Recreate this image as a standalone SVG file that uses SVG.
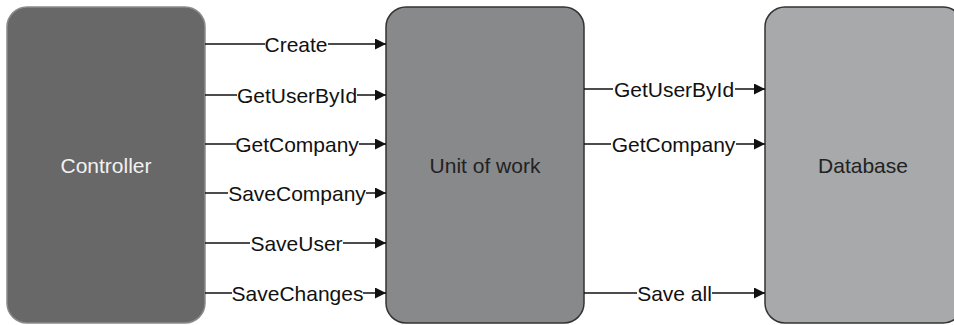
<svg xmlns="http://www.w3.org/2000/svg" width="954" height="325" viewBox="0 0 954 325">
<defs>
<style>
.box{stroke-width:1.5}
.lbl{font-family:"Liberation Sans",Arial,sans-serif;font-size:21px;text-anchor:middle}
.ctext{font-family:"Liberation Sans",Arial,sans-serif;font-size:21px;text-anchor:middle;fill:#111}
.line{stroke:#111;stroke-width:1.3;fill:none;marker-end:url(#arr)}
.bg{fill:#fff}
</style>
<marker id="arr" viewBox="0 0 11 11" refX="11" refY="5.5" markerWidth="11" markerHeight="11" markerUnits="userSpaceOnUse" orient="auto">
<path d="M0,0 L11,5.5 L0,11 Z" fill="#111"/>
</marker>
</defs>
<rect width="954" height="325" fill="#fff"/>
<g id="controller">
<rect class="box" x="7" y="7" width="198" height="316" rx="20" fill="#686868" stroke="#8a8a8a"/>
<text class="lbl" x="106" y="172.5" fill="#f2f2f2">Controller</text>
</g>
<g id="unitofwork">
<rect class="box" x="386" y="7" width="198" height="316" rx="20" fill="#88898b" stroke="#333"/>
<text class="lbl" x="485" y="172.5" fill="#222">Unit of work</text>
</g>
<g id="database">
<rect class="box" x="765" y="7" width="198" height="316" rx="20" fill="#a7a9aa" stroke="#333"/>
<text class="lbl" x="863" y="172.5" fill="#222">Database</text>
</g>
<g id="connectors">
<line class="line" x1="205" y1="44" x2="386" y2="44"/>
<rect class="bg" x="265" y="34" width="63" height="20"/>
<text class="ctext" x="296" y="51.5">Create</text>
<line class="line" x1="205" y1="95" x2="386" y2="95"/>
<rect class="bg" x="237" y="85" width="120" height="20"/>
<text class="ctext" x="297" y="102.5">GetUserById</text>
<line class="line" x1="205" y1="144" x2="386" y2="144"/>
<rect class="bg" x="236" y="134" width="123" height="20"/>
<text class="ctext" x="297" y="151.5">GetCompany</text>
<line class="line" x1="205" y1="193" x2="386" y2="193"/>
<rect class="bg" x="228" y="183" width="138" height="20"/>
<text class="ctext" x="297" y="200.5">SaveCompany</text>
<line class="line" x1="205" y1="243" x2="386" y2="243"/>
<rect class="bg" x="250" y="233" width="93" height="20"/>
<text class="ctext" x="296.5" y="250.5">SaveUser</text>
<line class="line" x1="205" y1="293" x2="386" y2="293"/>
<rect class="bg" x="232" y="283" width="131" height="20"/>
<text class="ctext" x="297.5" y="300.5">SaveChanges</text>
<line class="line" x1="584" y1="89" x2="765" y2="89"/>
<rect class="bg" x="613" y="79" width="122" height="20"/>
<text class="ctext" x="674" y="96.5">GetUserById</text>
<line class="line" x1="584" y1="144" x2="765" y2="144"/>
<rect class="bg" x="611" y="134" width="125" height="20"/>
<text class="ctext" x="673.5" y="151.5">GetCompany</text>
<line class="line" x1="584" y1="293" x2="765" y2="293"/>
<rect class="bg" x="637" y="283" width="75" height="20"/>
<text class="ctext" x="674.5" y="300.5">Save all</text>
</g>
</svg>
